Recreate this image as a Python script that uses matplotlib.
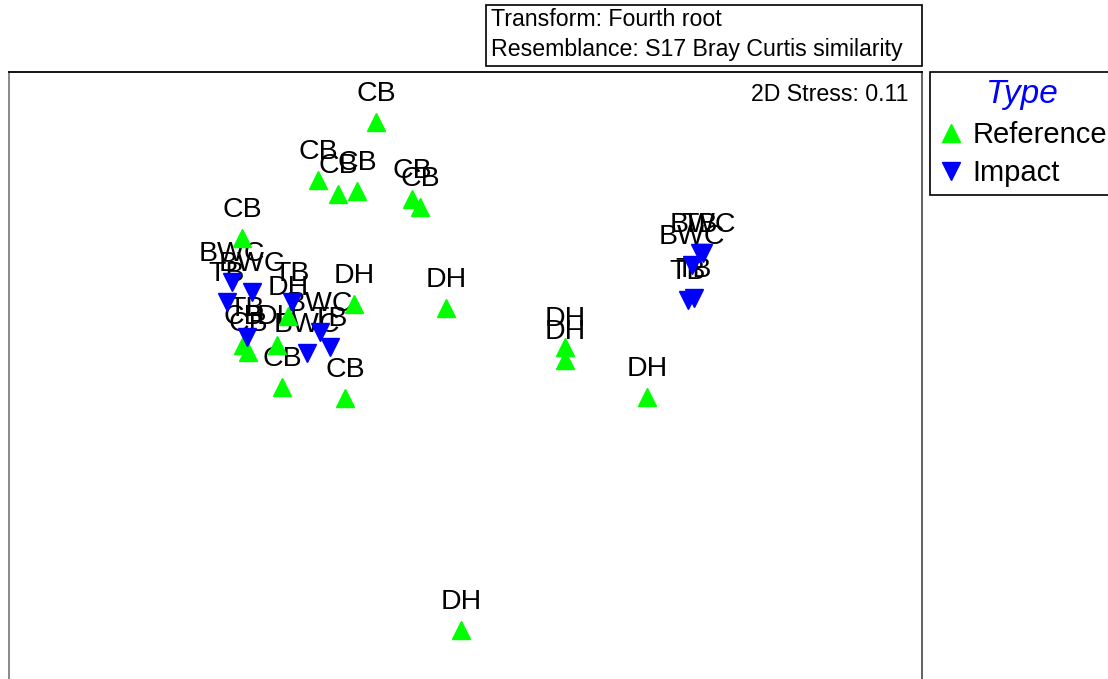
import matplotlib
matplotlib.use('Agg')
import matplotlib.pyplot as plt
from matplotlib.lines import Line2D
from matplotlib.patches import Rectangle

plt.rcParams['font.family'] = ['Liberation Sans', 'DejaVu Sans']

# nMDS ordination coordinates
ref_site = ['CB'] * 11 + ['DH'] * 8
ref_x = [-0.45, -0.74, -0.64, -0.545, -0.27, -0.23, -1.12, -1.115, -1.09, -0.92, -0.605,
         -0.56, -0.10, 0.495, 0.495, 0.905, -0.025, -0.89, -0.945]
ref_y = [1.29, 1.00, 0.93, 0.945, 0.905, 0.865, 0.71, 0.175, 0.14, -0.035, -0.09,
         0.38, 0.36, 0.165, 0.10, -0.085, -1.25, 0.32, 0.175]

imp_site = ['BWC', 'BWC', 'TB', 'TB', 'TB', 'BWC', 'TB', 'BWC',
            'BWC', 'TB', 'BWC', 'TB', 'TB']
imp_x = [-1.17, -1.07, -1.195, -1.095, -0.87, -0.73, -0.68, -0.795,
         1.185, 1.17, 1.13, 1.11, 1.14]
imp_y = [0.49, 0.44, 0.39, 0.215, 0.39, 0.24, 0.165, 0.135,
         0.635, 0.635, 0.575, 0.40, 0.41]

stress_text = '2D Stress: 0.11'
info_lines = ['Transform: Fourth root', 'Resemblance: S17 Bray Curtis similarity']
legend_title = 'Type'
group_names = ['Reference', 'Impact']

W, H = 1108, 679
fig = plt.figure(figsize=(W / 100, H / 100), dpi=100)

ax_left, ax_right, ax_top, ax_bot = 9, 922, 72, 700
ax = fig.add_axes([ax_left / W, 1 - ax_bot / H, (ax_right - ax_left) / W, (ax_bot - ax_top) / H])
ax.set_xlim(-2.285, 2.28)
ax.set_ylim(-1.6, 1.54)
ax.set_xticks([])
ax.set_yticks([])
ax.spines['left'].set_color('#808080')
ax.spines['right'].set_color('#555555')
ax.spines['top'].set_color('black')
for s in ax.spines.values():
    s.set_linewidth(1.3)

green = '#00ff00'
blue = '#0000ff'
ms = 13

for xs, ys, sites in [(ref_x, ref_y, ref_site), (imp_x, imp_y, imp_site)]:
    for x, y, s in zip(xs, ys, sites):
        ax.annotate(s, (x, y), xytext=(0, 15), textcoords='offset points',
                    ha='center', va='baseline', fontsize=20.5, color='black', zorder=2)

ax.plot(ref_x, ref_y, ls='none', marker='^', color=green, markersize=ms, zorder=3)
ax.plot(imp_x, imp_y, ls='none', marker='v', color=blue, markersize=ms, zorder=3)

ax.text(1 - 14 / (ax_right - ax_left), 1 - 23 / (ax_bot - ax_top), stress_text,
        transform=ax.transAxes, ha='right', va='center', fontsize=16.7)

# info box
fig.add_artist(Rectangle((486 / W, 1 - 66 / H), (922 - 486) / W, 61 / H,
                         transform=fig.transFigure, fill=False, edgecolor='black', linewidth=1.2))
fig.text(491 / W, 1 - 19.5 / H, info_lines[0], ha='left', va='center', fontsize=16.7)
fig.text(491 / W, 1 - 49.5 / H, info_lines[1], ha='left', va='center', fontsize=16.7)

handles = [Line2D([], [], ls='none', marker='^', color=green, markersize=13),
           Line2D([], [], ls='none', marker='v', color=blue, markersize=13)]
leg = ax.legend(handles, group_names, loc='upper left',
                bbox_to_anchor=(930 / W, 1 - 72 / H), bbox_transform=fig.transFigure,
                borderaxespad=0, fancybox=False, shadow=False, framealpha=1,
                edgecolor='black', fontsize=21, title=legend_title,
                title_fontproperties={'style': 'italic', 'size': 24},
                handletextpad=0.25, handlelength=0.95, labelspacing=0.36,
                borderpad=0.25)
leg.get_title().set_color(blue)
leg.get_frame().set_linewidth(1.2)

fig.savefig('out.png', dpi=100)
